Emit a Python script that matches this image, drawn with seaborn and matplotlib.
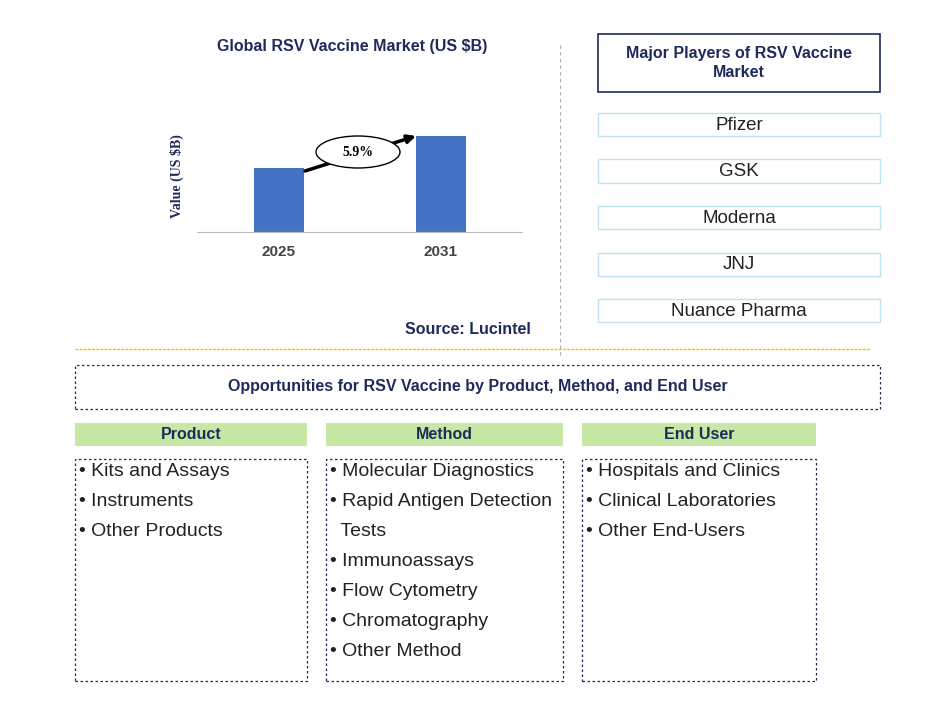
import matplotlib
matplotlib.use("Agg")
import matplotlib.pyplot as plt
import seaborn as sns
import pandas as pd
from matplotlib.patches import Rectangle, Ellipse, FancyArrowPatch

plt.rcParams["font.family"] = "Liberation Sans"

years = ["2025", "2031"]
values = [1.6, 2.4]
cagr_label = "5.9%"
players = ["Pfizer", "GSK", "Moderna", "JNJ", "Nuance Pharma"]
segments = ["Product", "Method", "End User"]
segment_items = [
    ["Kits and Assays", "Instruments", "Other Products"],
    ["Molecular Diagnostics", "Rapid Antigen Detection", "  Tests", "Immunoassays",
     "Flow Cytometry", "Chromatography", "Other Method"],
    ["Hospitals and Clinics", "Clinical Laboratories", "Other End-Users"],
]

W, H = 945, 702
fig = plt.figure(figsize=(9.45, 7.02), dpi=100)
navy = "#1F2A5C"
blue = "#4472C4"

def fx(x): return x / W
def fy(y): return 1 - y / H

def rect(x0, y0, x1, y1, **kw):
    fig.add_artist(Rectangle((fx(x0), fy(y1)), fx(x1) - fx(x0), fy(y0) - fy(y1),
                             transform=fig.transFigure, **kw))

# Bar chart
ax = fig.add_axes([fx(197), fy(232), fx(522) - fx(197), fy(120) - fy(232)])
df = pd.DataFrame({"year": years, "value": values})
sns.barplot(data=df, x="year", y="value", color=blue, width=0.31, saturation=1, ax=ax)
ax.set_xlim(-0.506, 1.5)
ax.set_ylim(0, values[1] * 112 / 96)
for s in ["top", "right", "left"]:
    ax.spines[s].set_visible(False)
ax.spines["bottom"].set_color("#BBBBBB")
ax.set_yticks([])
ax.tick_params(axis="x", length=0, pad=9)
for t in ax.get_xticklabels():
    t.set_fontweight("bold"); t.set_color("#444444"); t.set_fontsize(11)
ax.set_xlabel("")
ax.set_ylabel("Value (US $B)", fontsize=10, fontweight="bold", family="Liberation Serif", color=navy)
ax.yaxis.set_label_coords(-0.04, 0.5)

fig.text(fx(352), fy(47), "Global RSV Vaccine Market (US $B)", ha="center", va="center",
         fontsize=11.5, fontweight="bold", color=navy)
fig.add_artist(FancyArrowPatch((fx(305), fy(171)), (fx(416), fy(136)), transform=fig.transFigure,
                               arrowstyle="-|>", mutation_scale=12, color="black", lw=2.5,
                               shrinkA=0, shrinkB=0))
fig.add_artist(Ellipse((fx(358), fy(152)), fx(84), 32 / H, transform=fig.transFigure,
                       facecolor="white", edgecolor="black", lw=1))
fig.text(fx(358), fy(152), cagr_label, ha="center", va="center", fontsize=10, fontweight="bold",
         family="Liberation Serif")
fig.text(fx(468), fy(329), "Source: Lucintel", ha="center", va="center", fontsize=11.5,
         fontweight="bold", color=navy)

# dividers
fig.add_artist(plt.Line2D([fx(560), fx(560)], [fy(45), fy(355)], transform=fig.transFigure,
                          color="#AAAAAA", lw=0.8, ls=(0, (3, 3))))
fig.add_artist(plt.Line2D([fx(75), fx(870)], [fy(349), fy(349)], transform=fig.transFigure,
                          color="#F0C000", lw=1.0, ls=(0, (2, 1))))

# players
rect(598, 34, 880, 92, facecolor="white", edgecolor=navy, lw=1.2)
fig.text(fx(739), fy(63), "Major Players of RSV Vaccine\nMarket", ha="center", va="center",
         fontsize=11.5, fontweight="bold", color=navy, linespacing=1.3)
for i, p in enumerate(players):
    y0 = 113 + i * 46.5
    rect(598, y0, 880, y0 + 23, facecolor="white", edgecolor="#BFE3EE", lw=1)
    fig.text(fx(739), fy(y0 + 12), p, ha="center", va="center", fontsize=13.5, color="#222222")

# opportunities
rect(75, 365, 880, 409, facecolor="white", edgecolor=navy, lw=0.9, ls=(0, (2, 2)))
fig.text(fx(478), fy(387), "Opportunities for RSV Vaccine by Product, Method, and End User",
         ha="center", va="center", fontsize=11.5, fontweight="bold", color=navy)
cols = [(75, 307), (326, 563), (582, 816)]
for (x0, x1), seg, items in zip(cols, segments, segment_items):
    rect(x0, 423, x1, 446, facecolor="#C6E8A4", edgecolor="none")
    fig.text(fx((x0 + x1) / 2), fy(434.5), seg, ha="center", va="center", fontsize=11.5,
             fontweight="bold", color=navy)
    rect(x0, 459, x1, 681, facecolor="white", edgecolor=navy, lw=0.9, ls=(0, (2, 2)))
    for j, it in enumerate(items):
        txt = it if it.startswith("  ") else "\u2022 " + it
        fig.text(fx(x0 + 4), fy(472 + j * 30), txt, ha="left", va="center", fontsize=14,
                 color="#222222")

fig.savefig("out.png", dpi=100)
